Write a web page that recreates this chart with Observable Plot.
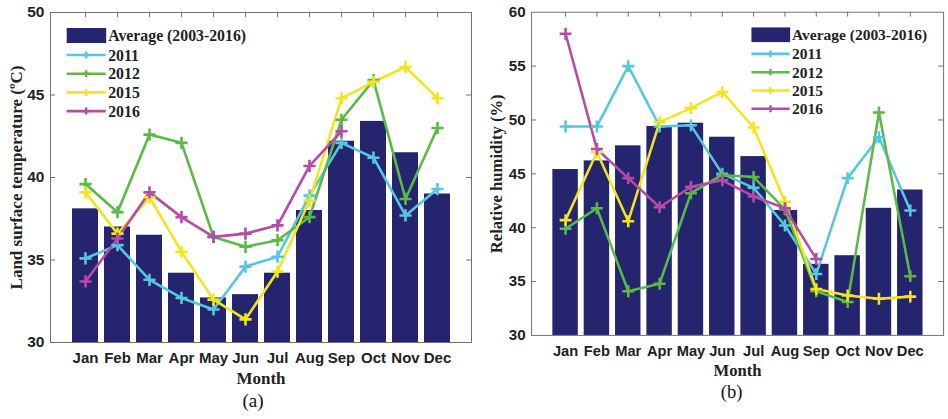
<!DOCTYPE html>
<html><head><meta charset="utf-8">
<script src="https://cdn.jsdelivr.net/npm/d3@7"></script>
<script src="https://cdn.jsdelivr.net/npm/@observablehq/plot@0.6"></script>
<style>
html,body{margin:0;padding:0;background:#fff;}
body{width:948px;height:419px;overflow:hidden;position:relative;}
#a,#b{position:absolute;top:0;}
#a{left:0;} #b{left:474px;}
svg{overflow:visible;}
</style></head>
<body><div id="a"></div><div id="b"></div>
<script>
const months = ["Jan","Feb","Mar","Apr","May","Jun","Jul","Aug","Sep","Oct","Nov","Dec"];
const seriesNames = ["2011","2012","2015","2016"];
const seriesColors = ["#56c6e1","#5bba45","#f3e51d","#b54aa8"];
const avgLabel = "Average (2003-2016)";

// (a) Land surface temperature (°C)
const lstAvg  = [38.1, 37.0, 36.5, 34.2, 32.7, 32.9, 34.2, 38.0, 42.2, 43.4, 41.5, 39.0];
const lst2011 = [35.1, 35.9, 33.8, 32.7, 32.0, 34.6, 35.2, 38.9, 42.1, 41.2, 37.7, 39.3];
const lst2012 = [39.6, 37.9, 42.6, 42.1, 36.4, 35.8, 36.2, 37.6, 43.5, 45.9, 38.7, 43.0];
const lst2015 = [39.1, 36.6, 38.8, 35.5, 32.6, 31.4, 34.3, 38.6, 44.8, 45.8, 46.7, 44.8];
const lst2016 = [33.7, 36.3, 39.1, 37.6, 36.4, 36.6, 37.1, 40.7, 42.8, null, null, null];
const lstTicks = [30, 35, 40, 45, 50];

// (b) Relative humidity (%)
const rhAvg  = [45.4, 46.2, 47.6, 49.4, 49.7, 48.4, 46.6, 41.6, 36.6, 37.4, 41.8, 43.5];
const rh2011 = [49.4, 49.4, 55.0, 49.4, 49.5, 45.0, 43.7, 40.2, 35.7, 44.6, 48.4, 41.6];
const rh2012 = [39.9, 41.8, 34.1, 34.8, 43.2, 44.9, 44.7, 41.7, 34.1, 33.1, 50.7, 35.5];
const rh2015 = [40.7, 47.0, 40.6, 49.8, 51.1, 52.6, 49.3, 42.4, 34.3, 33.7, 33.4, 33.6];
const rh2016 = [58.0, 47.3, 44.6, 41.9, 43.8, 44.4, 42.9, 41.8, 37.1, null, null, null];
const rhTicks = [30, 35, 40, 45, 50, 55, 60];

const SANS = "'Liberation Sans', Arial, sans-serif";
const SERIF = "'Liberation Serif', 'Times New Roman', serif";
const BAR = "#25246e";
const FRAME = "#707070";

function panel({el, avg, series, ticks, yLabel, caption, width, marginLeft, marginRight, legendX, captionDx, ylabelDx}) {
  const height = 419, marginTop = 12, marginBottom = 77;
  const W = width - marginLeft - marginRight;
  const H = height - marginTop - marginBottom;
  const bars = months.map((m, i) => ({month: m, value: avg[i]}));
  const rows = [];
  series.forEach((s, k) => s.forEach((v, i) => { if (v != null) rows.push({month: months[i], series: seriesNames[k], value: v}); }));
  const y0 = ticks[0], y1 = ticks[ticks.length - 1];
  const plot = Plot.plot({
    width, height, marginTop, marginBottom, marginLeft, marginRight,
    style: {background: "transparent", overflow: "visible"},
    x: {type: "band", domain: months, paddingInner: 0.2, paddingOuter: 0.1, inset: W / 26, label: null},
    y: {domain: [y0, y1], label: null},
    color: {domain: seriesNames, range: seriesColors},
    marks: [
      Plot.tickY(ticks.slice(1, -1), {y: d => d, insetRight: W - 5, stroke: FRAME, strokeWidth: 1}),
      Plot.tickY(ticks.slice(1, -1), {y: d => d, insetLeft: W - 5, stroke: FRAME, strokeWidth: 1}),
      Plot.tickX(months, {x: d => d, insetBottom: H - 5, stroke: FRAME, strokeWidth: 1}),
      Plot.frame({stroke: FRAME, strokeWidth: 1}),
      Plot.barY(bars, {x: "month", y1: y0, y2: "value", fill: BAR}),
      Plot.line(rows, {x: "month", y: "value", z: "series", stroke: "series", strokeWidth: 2.6, curve: "linear"}),
      Plot.dot(rows, {x: "month", y: "value", stroke: "series", symbol: "plus", r: 4, strokeWidth: 2.6}),
      Plot.axisX({tickSize: 0, tickPadding: 10, fontSize: 15, fontWeight: "bold", fontFamily: SANS, fill: "#222", label: null}),
      Plot.axisY({ticks, tickSize: 0, tickPadding: 6, fontSize: 15.5, fontWeight: "bold", fontFamily: SANS, fill: "#222", label: null}),
      Plot.text(["Month"], {frameAnchor: "bottom", dy: 41, fontSize: 17, fontWeight: "bold", fontFamily: SERIF, fill: "#222"}),
      Plot.text([caption], {frameAnchor: "bottom", dy: 64, dx: captionDx, fontSize: 19, fontFamily: SERIF, fill: "#111"}),
      Plot.text([yLabel], {frameAnchor: "left", textAnchor: "middle", dx: ylabelDx, rotate: -90, fontSize: 17, fontWeight: "bold", fontFamily: SERIF, fill: "#222"})
    ]
  });
  // legend
  const svg = d3.select(plot);
  const lg = svg.append("g").attr("text-anchor", "start");
  lg.append("rect").attr("x", legendX).attr("y", 28).attr("width", 39.5).attr("height", 15).attr("fill", BAR);
  lg.append("text").attr("x", legendX + 41.5).attr("y", 35.7).attr("dy", "0.35em").attr("text-anchor", "start")
    .attr("font-family", SERIF).attr("font-weight", "bold").attr("font-size", 15.8).attr("fill", "#222").text(avgLabel);
  seriesNames.forEach((name, k) => {
    const yy = 55 + k * 18.7;
    lg.append("line").attr("x1", legendX).attr("x2", legendX + 39).attr("y1", yy).attr("y2", yy)
      .attr("stroke", seriesColors[k]).attr("stroke-width", 2.6);
    const cx = legendX + 19.5;
    lg.append("path").attr("d", `M${cx-3.5},${yy}h7M${cx},${yy-3.5}v7`).attr("stroke", seriesColors[k]).attr("stroke-width", 2.4);
    lg.append("text").attr("x", legendX + 41.5).attr("y", yy).attr("dy", "0.35em").attr("text-anchor", "start")
      .attr("font-family", SERIF).attr("font-weight", "bold").attr("font-size", 15.8).attr("fill", "#222").text(name);
  });
  document.getElementById(el).append(plot);
}

panel({el: "a", avg: lstAvg, series: [lst2011, lst2012, lst2015, lst2016], ticks: lstTicks,
  yLabel: "Land surface temperature (ºC)", caption: "(a)", width: 474, marginLeft: 50, marginRight: 3, legendX: 66.7, captionDx: -8, ylabelDx: -34});
panel({el: "b", avg: rhAvg, series: [rh2011, rh2012, rh2015, rh2016], ticks: rhTicks,
  yLabel: "Relative humidity (%)", caption: "(b)", width: 484, marginLeft: 58.3, marginRight: 5, legendX: 283.3, captionDx: -6, ylabelDx: -36});
</script>
</body></html>
